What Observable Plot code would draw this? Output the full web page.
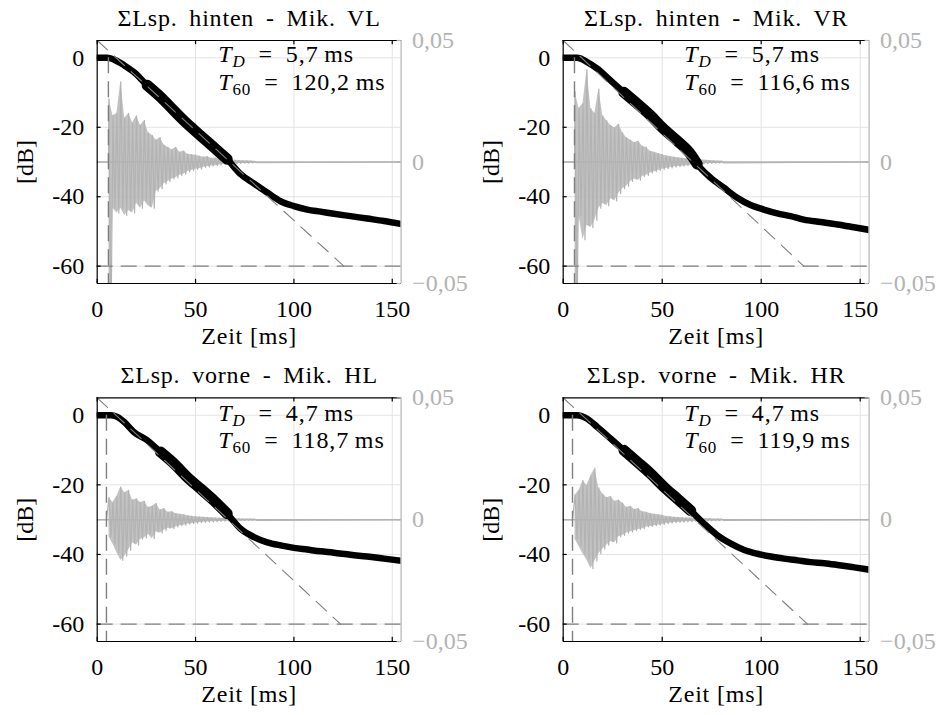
<!DOCTYPE html>
<html>
<head>
<meta charset="utf-8">
<script src="https://cdn.jsdelivr.net/npm/d3@7"></script>
<script src="https://cdn.jsdelivr.net/npm/@observablehq/plot@0.6"></script>
<style>
  html, body { margin: 0; padding: 0; background: #fff; }
  body { width: 939px; height: 715px; position: relative; overflow: hidden; }
  .panel { position: absolute; }
  .panel svg { overflow: visible; font-family: "Liberation Serif", "DejaVu Serif", serif !important; font-size: 24px; }
  .panel svg text { font-family: "Liberation Serif", "DejaVu Serif", serif !important; }
</style>
</head>
<body>
<div id="p0" class="panel" style="left:0px;top:0px"></div>
<div id="p1" class="panel" style="left:470px;top:0px"></div>
<div id="p2" class="panel" style="left:0px;top:357px"></div>
<div id="p3" class="panel" style="left:470px;top:357px"></div>
<script>
// ---------- data ----------
const panelTitles = ["ΣLsp. hinten - Mik. VL", "ΣLsp. hinten - Mik. VR", "ΣLsp. vorne - Mik. HL", "ΣLsp. vorne - Mik. HR"];
const delayMs = [5.7, 5.7, 4.7, 4.7];
const delayLabels = ["5,7", "5,7", "4,7", "4,7"];
const t60Labels = ["120,2", "116,6", "118,7", "119,9"];
const slopeStartDb = 5;
const slopeEndMs = [125.4, 121.5, 123.7, 123.4];
const thickFrom = [25, 28, 28, 27];
const thickTo = [70, 68, 70, 70];
const timeMax = 154.5;
const xTickValues = [0, 50, 100, 150];
const yTickValues = [0, -20, -40, -60];
const ampTickValues = [-0.05, 0, 0.05];

// Schroeder decay curves [ms] / [dB]
const decayTimeVL = [0, 5, 8.5, 13.6, 18.6, 25.4, 32.2, 39, 45.8, 52.5, 59.3, 66.1, 72.9, 79.7, 86.4, 93.2, 100, 106.8, 113.6, 120.3, 128.8, 137.3, 145.8, 156];
const decayLevelVL = [0, 0, -0.5, -2.1, -4.1, -7.9, -11.3, -15.2, -19, -22.4, -25.8, -29.2, -33.5, -36.2, -38.8, -41.3, -42.7, -43.7, -44.3, -44.9, -45.6, -46.3, -47, -48];
const decayTimeVR = [0, 7, 12.1, 17.2, 23.9, 30.6, 37.4, 44.1, 50.8, 57.6, 64.3, 67.7, 74.4, 81.1, 87.9, 94.6, 101.3, 108.1, 114.8, 121.5, 130, 138.4, 146.8, 155];
const decayLevelVR = [0, 0, -1.2, -3.1, -6.5, -9.9, -13.2, -16.6, -20.5, -23.9, -27.7, -30.6, -34.5, -37.4, -40.3, -42.4, -43.7, -44.8, -45.6, -46.6, -47.3, -48, -48.8, -49.6];
const decayTimeHL = [0, 6.8, 10.2, 13.6, 18.6, 25.4, 32.2, 39, 45.8, 52.5, 59.3, 66.1, 72.9, 79.7, 86.4, 93.2, 100, 106.8, 113.6, 120.3, 128.8, 137.3, 145.8, 156];
const decayLevelHL = [0, 0, -0.5, -1.9, -4.8, -7.2, -10.6, -13.9, -17.8, -21.1, -24.5, -28.3, -32.6, -35, -36.5, -37.4, -38.1, -38.6, -39.1, -39.5, -40.1, -40.6, -41.2, -41.9];
const decayTimeHR = [0, 7, 12.1, 17.2, 23.9, 30.7, 37.4, 44.2, 50.9, 57.7, 64.4, 71.2, 77.9, 84.7, 91.4, 98.1, 104.9, 111.6, 118.4, 125.1, 131.9, 138.6, 147, 155];
const decayLevelHR = [0, 0, -1, -3.4, -6.7, -10.1, -13.4, -16.8, -20.6, -24, -27.4, -31.2, -34.5, -36.9, -38.7, -39.8, -40.6, -41.2, -41.7, -42.2, -42.5, -43, -43.7, -44.4];

// impulse response: sampled peak (high) / trough (low) amplitudes
const wfTimes = [6, 8, 10, 12, 14, 16, 18, 20, 22, 24, 26, 28, 30, 32, 34, 36, 38, 40, 42, 44, 46, 48, 50, 52, 54, 56, 58, 60, 62, 64, 66, 68, 70, 72, 74, 76, 78, 80];
const wfHighVL = [0.026, 0.019, 0.020, 0.033, 0.018, 0.020, 0.016, 0.019, 0.015, 0.017, 0.012, 0.011, 0.009, 0.010, 0.007, 0.006, 0.005, 0.006, 0.004, 0.0045, 0.0032, 0.003, 0.0028, 0.0024, 0.002, 0.0022, 0.0015, 0.0016, 0.0012, 0.0011, 0.0009, 0.0008, 0.0007, 0.0006, 0.0005, 0.0005, 0.0004, 0.0003];
const wfLowVL = [-0.070, -0.019, -0.021, -0.019, -0.022, -0.020, -0.021, -0.017, -0.019, -0.016, -0.018, -0.019, -0.012, -0.011, -0.009, -0.008, -0.007, -0.0065, -0.0055, -0.005, -0.004, -0.0035, -0.003, -0.0028, -0.0022, -0.002, -0.0016, -0.0015, -0.0012, -0.001, -0.0009, -0.0008, -0.0007, -0.0006, -0.0005, -0.0005, -0.0004, -0.0003];
const wfHighVR = [0.029, 0.022, 0.024, 0.038, 0.022, 0.020, 0.030, 0.019, 0.017, 0.015, 0.014, 0.0155, 0.012, 0.010, 0.009, 0.008, 0.0085, 0.0065, 0.006, 0.0044, 0.004, 0.0035, 0.003, 0.0025, 0.0023, 0.002, 0.0017, 0.0015, 0.0013, 0.0012, 0.001, 0.0009, 0.0008, 0.0007, 0.0006, 0.0005, 0.0004, 0.0004];
const wfLowVR = [-0.070, -0.022, -0.032, -0.026, -0.027, -0.024, -0.019, -0.017, -0.018, -0.015, -0.016, -0.013, -0.011, -0.010, -0.008, -0.007, -0.0075, -0.006, -0.0055, -0.0045, -0.004, -0.0035, -0.003, -0.0027, -0.0024, -0.0021, -0.0019, -0.0017, -0.0015, -0.0013, -0.0011, -0.001, -0.0008, -0.0007, -0.0006, -0.0005, -0.0004, -0.0004];
const wfHighHL = [0.009, 0.007, 0.0095, 0.0134, 0.011, 0.012, 0.008, 0.0085, 0.007, 0.0075, 0.005, 0.0055, 0.0066, 0.004, 0.0045, 0.003, 0.0032, 0.0025, 0.0022, 0.002, 0.0016, 0.0014, 0.0012, 0.0011, 0.001, 0.0009, 0.0008, 0.0007, 0.0006, 0.0006, 0.0005, 0.0005, 0.0004, 0.0004, 0.0003, 0.0003, 0.0003, 0.0003];
const wfLowHL = [-0.007, -0.010, -0.0135, -0.0167, -0.015, -0.0125, -0.0095, -0.0105, -0.008, -0.0075, -0.006, -0.0078, -0.005, -0.0055, -0.0044, -0.0035, -0.0037, -0.003, -0.0025, -0.0023, -0.0018, -0.0016, -0.0014, -0.0012, -0.0011, -0.001, -0.0009, -0.0008, -0.0007, -0.0006, -0.0006, -0.0005, -0.0005, -0.0004, -0.0004, -0.0003, -0.0003, -0.0003];
const wfHighHR = [0.010, 0.012, 0.016, 0.014, 0.018, 0.021, 0.013, 0.0105, 0.009, 0.0095, 0.0075, 0.008, 0.0068, 0.005, 0.0055, 0.0042, 0.0045, 0.0032, 0.003, 0.0025, 0.0022, 0.002, 0.0018, 0.0013, 0.0012, 0.001, 0.0009, 0.0008, 0.0007, 0.0007, 0.0006, 0.0005, 0.0005, 0.0004, 0.0004, 0.0003, 0.0003, 0.0003];
const wfLowHR = [-0.008, -0.011, -0.014, -0.0167, -0.020, -0.017, -0.014, -0.012, -0.0105, -0.009, -0.0095, -0.007, -0.0065, -0.0055, -0.005, -0.0045, -0.004, -0.0037, -0.003, -0.0028, -0.0025, -0.0023, -0.002, -0.0016, -0.0014, -0.0012, -0.0011, -0.001, -0.0009, -0.0008, -0.0007, -0.0007, -0.0006, -0.0005, -0.0005, -0.0004, -0.0004, -0.0003];

// ---------- drawing ----------
const FONT = "'Liberation Serif', 'DejaVu Serif', serif";
const gray = "#b3b3b3";
const dashGray = "#7f7f7f";
const gridGray = "#e3e3e3";
const toY = a => -30 + a * 700; // right axis (amplitude) onto the dB scale: ±0.05 ↔ [-65, 5]
const fmtAmp = a => a === 0 ? "0" : (a < 0 ? "\u2212" : "") + Math.abs(a).toFixed(2).replace(".", ",");
const fmtDb = d => d < 0 ? "-" + Math.abs(d) : String(d);

function drawPanel(idx, el, geom, decayT, decayL, wfHigh, wfLow) {
  const decay = decayT.map((t, k) => ({t, db: decayL[k]}));
  const thick = decay.filter(d => d.t >= thickFrom[idx] && d.t <= thickTo[idx]);
  const wave = [{t: 0, a: 0}, {t: delayMs[idx], a: 0}];
  wfTimes.forEach((t, k) => { wave.push({t, a: wfHigh[k]}); wave.push({t: t + 1, a: wfLow[k]}); });
  wave.push({t: timeMax, a: 0});
  const env = wfTimes.map((t, k) => ({t, hi: wfHigh[k], lo: wfLow[k]}));
  const slope = [{t: 0, db: slopeStartDb}, {t: slopeEndMs[idx], db: -60}];
  const T = {fontFamily: FONT, fontSize: 24, lineAnchor: "middle"};

  const svg = Plot.plot({
    width: geom.w, height: geom.h,
    marginLeft: geom.ml, marginRight: geom.mr, marginTop: geom.mt, marginBottom: geom.mb,
    x: {domain: [0, timeMax], axis: null},
    y: {domain: [-65, 5], axis: null},
    style: {fontFamily: FONT, fontSize: "24px", background: "transparent", color: "black", overflow: "visible"},
    marks: [
      Plot.ruleX(xTickValues.filter(v => v > 0), {x: d => d, stroke: gridGray, strokeWidth: 1}),
      Plot.ruleY(yTickValues, {y: d => d, stroke: gridGray, strokeWidth: 1}),
      Plot.ruleY([0], {y: a => toY(a), stroke: gray, strokeWidth: 1.5}),
      Plot.areaY(env, {x: "t", y1: d => toY(d.lo), y2: d => toY(d.hi), fill: gray, fillOpacity: 0.8, clip: true}),
      Plot.line(wave, {x: "t", y: d => toY(d.a), stroke: gray, strokeWidth: 1.2, clip: true}),
      Plot.line(decay, {x: "t", y: "db", stroke: "black", strokeWidth: 6.5, curve: "monotone-x", clip: true}),
      Plot.line(thick, {x: "t", y: "db", stroke: "black", strokeWidth: 11, curve: "monotone-x", clip: true}),
      Plot.ruleX([delayMs[idx]], {x: d => d, y1: 0, y2: -65, stroke: dashGray, strokeWidth: 1.4, strokeDasharray: "16,8"}),
      Plot.ruleY([-60], {y: d => d, stroke: dashGray, strokeWidth: 1.4, strokeDasharray: "16,8"}),
      Plot.line(slope, {x: "t", y: "db", stroke: dashGray, strokeWidth: 1.1, strokeDasharray: "14,9", clip: true}),
      // frame
      Plot.ruleY([5, -65], {y: d => d, stroke: "black", strokeWidth: 1.2}),
      Plot.ruleX([0], {x: d => d, stroke: "black", strokeWidth: 1.2}),
      Plot.ruleX([timeMax], {x: d => d, stroke: gray, strokeWidth: 1.2}),
      // inward ticks
      Plot.ruleX(xTickValues, {x: d => d, y1: -65, y2: -63.8, stroke: "black", strokeWidth: 1.2}),
      Plot.ruleX(xTickValues, {x: d => d, y1: 5, y2: 3.8, stroke: "black", strokeWidth: 1.2}),
      Plot.ruleY(yTickValues, {y: d => d, x1: 0, x2: 2, stroke: "black", strokeWidth: 1.2}),
      Plot.ruleY(ampTickValues, {y: a => toY(a), x1: timeMax - 2, x2: timeMax, stroke: gray, strokeWidth: 1.2}),
      // tick labels
      Plot.text(xTickValues, {...T, x: d => d, frameAnchor: "bottom", dy: 25.5, textAnchor: "middle", text: d => String(d)}),
      Plot.text(yTickValues, {...T, y: d => d, frameAnchor: "left", dx: -13, textAnchor: "end", text: fmtDb}),
      Plot.text(ampTickValues, {...T, y: a => toY(a), frameAnchor: "right", dx: 11, textAnchor: "start", fill: gray, text: fmtAmp}),
      // axis labels, title, annotation
      Plot.text(["Zeit [ms]"], {...T, frameAnchor: "bottom", dy: 53, textAnchor: "middle", text: d => d}),
      Plot.text(["[dB]"], {...T, frameAnchor: "left", dx: -72, rotate: -90, textAnchor: "middle", text: d => d}),
      Plot.text([panelTitles[idx]], {...T, frameAnchor: "top", dy: -22.5, textAnchor: "middle", text: d => d}),
      Plot.text(["T_D = " + delayLabels[idx] + " ms"], {...T, frameAnchor: "top-left", dx: 121, dy: geom.ann1, textAnchor: "start", text: d => d}),
      Plot.text(["T_60 = " + t60Labels[idx] + " ms"], {...T, frameAnchor: "top-left", dx: 121, dy: geom.ann2, textAnchor: "start", text: d => d})
    ]
  });

  const s = d3.select(svg);
  s.selectAll("text").each(function() {
    const txt = this.textContent;
    const m = /^T_(\w+) = (.+) ms$/.exec(txt);
    if (m) {
      const sel = d3.select(this);
      sel.text(null);
      sel.append("tspan").attr("font-style", "italic").text("T");
      sel.append("tspan").attr("font-size", "17px").attr("dy", 5)
        .attr("font-style", /^\d+$/.test(m[1]) ? "normal" : "italic").text(m[1]);
      sel.append("tspan").attr("dy", -5).text("\u2002=\u2002" + m[2] + "\u2009ms");
      sel.attr("letter-spacing", "0.9px");
    } else if (txt.startsWith("\u03A3")) {
      d3.select(this).attr("letter-spacing", "0.8px").attr("word-spacing", "5px");
    } else if (txt === "Zeit [ms]") {
      d3.select(this).attr("letter-spacing", "0.8px");
    }
  });
  document.getElementById(el).appendChild(svg);
}

const geomTL = {w: 470, h: 358, ml: 96.7, mr: 69.4, mt: 40, mb: 75, ann1: 14.3, ann2: 42.3};
const geomTR = {w: 469, h: 358, ml: 92.7, mr: 70.4, mt: 40, mb: 75, ann1: 14.3, ann2: 42.3};
const geomBL = {w: 470, h: 358, ml: 96.7, mr: 69.4, mt: 40.3, mb: 74, ann1: 15.3, ann2: 42.8};
const geomBR = {w: 469, h: 358, ml: 92.7, mr: 70.4, mt: 40.3, mb: 74, ann1: 15.3, ann2: 42.8};

drawPanel(0, "p0", geomTL, decayTimeVL, decayLevelVL, wfHighVL, wfLowVL);
drawPanel(1, "p1", geomTR, decayTimeVR, decayLevelVR, wfHighVR, wfLowVR);
drawPanel(2, "p2", geomBL, decayTimeHL, decayLevelHL, wfHighHL, wfLowHL);
drawPanel(3, "p3", geomBR, decayTimeHR, decayLevelHR, wfHighHR, wfLowHR);
</script>
</body>
</html>
